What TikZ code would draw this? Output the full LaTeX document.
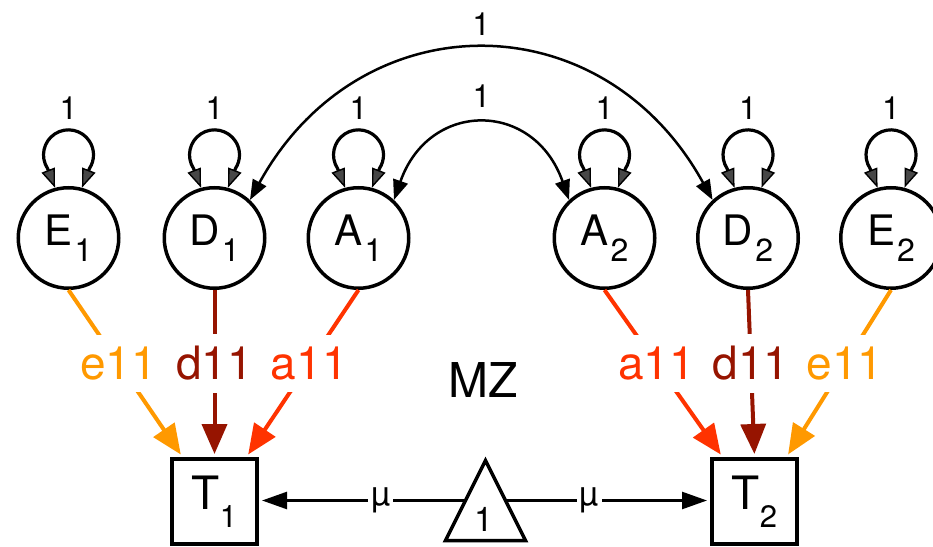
\documentclass[tikz,border=0pt]{standalone}
\usepackage{fontspec}
\setmainfont{TeX Gyre Heros}
\usetikzlibrary{calc,arrows.meta,shapes.geometric}
\definecolor{eorange}{RGB}{255,153,0}
\definecolor{dred}{RGB}{150,20,0}
\definecolor{ared}{RGB}{255,51,0}
\def\lsub#1{\kern2pt\raisebox{-16pt}{\fontsize{32}{32}\selectfont #1}}
\def\msub#1{\raisebox{-18pt}{\fontsize{31}{31}\selectfont #1}}
\def\varloop(#1){\draw[selfloop] (#1.105) -- ++(-7.5,19.3) arc[start angle=213, end angle=-33, radius=25pt] -- (#1.75);
	\node[varlabel] (#1var) at ($(#1)+(0,129.5)$) {1};}

\begin{document}
\begin{tikzpicture}[x=1pt, y=1pt,
	latent/.style={circle, draw, line width=3.5pt, minimum size=100.5pt, inner sep=0pt, font=\fontsize{42}{46}\selectfont},
	manifest/.style={rectangle, draw, line width=4pt, minimum size=85pt, inner sep=0pt, font=\fontsize{46}{50}\selectfont},
	meannode/.style={isosceles triangle, isosceles triangle stretches, shape border rotate=90, draw, line width=3.5pt, minimum width=80pt, minimum height=80pt, inner sep=0pt, outer sep=0pt},
	selfloop/.style={line width=3.2pt, {Triangle[length=19pt,width=14pt,fill=black!72,line width=1.4pt]}-{Triangle[length=19pt,width=14pt,fill=black!72,line width=1.4pt]}},
	covar/.style={line width=2.5pt, {Triangle[length=20pt,width=15pt]}-{Triangle[length=20pt,width=15pt]}},
	varlabel/.style={font=\fontsize{32}{36}\selectfont, inner sep=2pt},
	loading/.style={line width=4pt, -{Triangle[length=30pt,width=25pt]}, shorten >=3pt},
	coef/.style={fill=white, inner xsep=4pt, inner ysep=12pt, font=\fontsize{46}{50}\selectfont, pos=0.44},
	mean/.style={line width=2.5pt, -{Triangle[length=25pt,width=17pt]}, shorten >=3pt},
	meanlabel/.style={fill=white, inner xsep=3pt, inner ysep=1pt, font=\fontsize{34}{36}\selectfont, pos=0.41}]
	%%%%% START %%%%%
	\useasboundingbox (0, 0) rectangle (933, 546);
	
	\node[latent] (E1) at (68.5, 308) {E\lsub{1}};
	\node[latent] (D1) at (214.5, 308) {D\lsub{1}};
	\node[latent] (A1) at (358.5, 308) {A\lsub{1}};
	\node[latent] (A2) at (604.5, 308) {A\lsub{2}};
	\node[latent] (D2) at (748, 308) {D\lsub{2}};
	\node[latent] (E2) at (891, 308) {E\lsub{2}};
	
	\node[manifest] (T1) at (214.5, 44.5) {T\msub{1}};
	\node[manifest] (T2) at (754.5, 44.5) {T\msub{2}};
	
	\node[meannode, anchor=lower side] (tri) at (485.5, 5.5) {};
	\node[font=\fontsize{34}{36}\selectfont] (trione) at (483.5, 27) {1};
	\node[font=\fontsize{48}{52}\selectfont] (mz) at (483, 166) {MZ};
	
	% variances
	\varloop(E1) \varloop(D1) \varloop(A1)
	\varloop(A2) \varloop(D2) \varloop(E2)
	
	% covariances
	\draw[covar] (D1.47) .. controls +(110,200) and +(-110,200) .. (D2.133) node[midway, above=11pt, varlabel] (dcov) {1};
	\draw[covar] (A1.47) .. controls +(35,100) and +(-35,100) .. (A2.133) node[midway, above=14pt, varlabel] (acov) {1};
	
	% paths to T1
	\draw[loading, eorange] (E1.south) -- ([xshift=-32pt]T1.north) node[coef] (e1lab) {e11};
	\draw[loading, dred] (D1.south) -- (T1.north) node[coef] (d1lab) {d11};
	\draw[loading, ared] (A1.south) -- ([xshift=32pt]T1.north) node[coef] (a1lab) {a11};
	
	% paths to T2
	\draw[loading, ared] (A2.south) -- ([xshift=-32pt]T2.north) node[coef] (a2lab) {a11};
	\draw[loading, dred] (D2.south) -- (T2.north) node[coef] (d2lab) {d11};
	\draw[loading, eorange] (E2.south) -- ([xshift=32pt]T2.north) node[coef] (e2lab) {e11};
	
	% means
	\draw[mean] (tri.left side) -- (tri.left side -| T1.east) node[meanlabel] (mu1) {µ};
	\draw[mean] (tri.right side) -- (tri.right side -| T2.west) node[meanlabel] (mu2) {µ};
	%%%%% END %%%%%
\end{tikzpicture}
\end{document}
